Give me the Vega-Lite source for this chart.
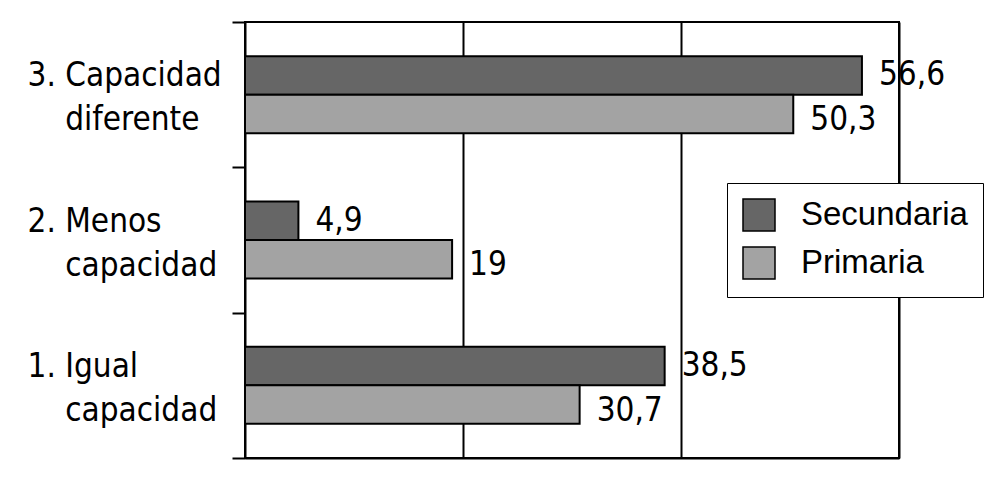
{
  "$schema": "https://vega.github.io/schema/vega-lite/v6.json",
  "width": 654,
  "height": 436,
  "autosize": {"type": "none"},
  "padding": {"left": 245, "top": 22, "right": 109, "bottom": 25},
  "background": "white",
  "config": {
    "view": {"stroke": "black", "strokeWidth": 2},
    "locale": {"number": {"decimal": ",", "thousands": ".", "grouping": [3], "currency": ["", " €"]}}
  },
  "data": {
    "values": [
      {"category": "3. Capacidad diferente", "nivel": "Secundaria", "value": 56.6},
      {"category": "3. Capacidad diferente", "nivel": "Primaria", "value": 50.3},
      {"category": "2. Menos capacidad", "nivel": "Secundaria", "value": 4.9},
      {"category": "2. Menos capacidad", "nivel": "Primaria", "value": 19},
      {"category": "1. Igual capacidad", "nivel": "Secundaria", "value": 38.5},
      {"category": "1. Igual capacidad", "nivel": "Primaria", "value": 30.7}
    ]
  },
  "encoding": {
    "y": {
      "field": "category",
      "type": "nominal",
      "sort": ["3. Capacidad diferente", "2. Menos capacidad", "1. Igual capacidad"],
      "scale": {"paddingInner": 0, "paddingOuter": 0},
      "axis": {
        "title": null,
        "tickBand": "extent",
        "ticks": true,
        "tickSize": 13,
        "tickColor": "black",
        "tickWidth": 2,
        "domainColor": "black",
        "domainWidth": 2,
        "grid": false,
        "labelAlign": "left",
        "labelBaseline": "middle",
        "labelPadding": 205,
        "labelOffset": -19,
        "labelFont": "DejaVu Sans Condensed",
        "labelFontSize": 33,
        "labelColor": "black",
        "labelLineHeight": 44,
        "labelLimit": 400,
        "labelExpr": "isValid(datum.value) ? [replace(datum.value, regexp('^([^ ]+ [^ ]+) .*$'), '$1'), '\u200b\u00a0\u00a0\u00a0\u00a0' + replace(datum.value, regexp('^[^ ]+ [^ ]+ '), '')] : ''"
      }
    },
    "x": {
      "field": "value",
      "type": "quantitative",
      "scale": {"domain": [0, 60], "nice": false},
      "axis": {
        "title": null,
        "values": [20, 40, 60],
        "grid": true,
        "gridColor": "black",
        "gridWidth": 2,
        "gridOpacity": 1,
        "labels": false,
        "ticks": false,
        "domain": true,
        "domainColor": "black",
        "domainWidth": 2
      }
    },
    "yOffset": {
      "field": "nivel",
      "sort": ["Secundaria", "Primaria"],
      "scale": {"paddingInner": 0, "paddingOuter": 0.887}
    }
  },
  "layer": [
    {
      "mark": {"type": "bar", "stroke": "black", "strokeWidth": 2, "opacity": 1},
      "encoding": {
        "color": {
          "field": "nivel",
          "type": "nominal",
          "scale": {"domain": ["Secundaria", "Primaria"], "range": ["#666666", "#a3a3a3"]},
          "legend": {
            "title": null,
            "orient": "none",
            "legendX": 482,
            "legendY": 161,
            "fillColor": "white",
            "strokeColor": "black",
            "padding": 15,
            "symbolType": "square",
            "symbolSize": 1024,
            "symbolStrokeColor": "black",
            "symbolStrokeWidth": 1.5,
            "symbolOpacity": 1,
            "labelFont": "Liberation Sans",
            "labelFontSize": 33,
            "labelLimit": 400,
            "labelColor": "black",
            "labelOffset": 25,
            "rowPadding": 10
          }
        }
      }
    },
    {
      "transform": [{"filter": "datum.nivel === 'Secundaria'"}],
      "mark": {"type": "text", "align": "left", "baseline": "middle", "dx": 17, "dy": 0, "font": "DejaVu Sans Condensed", "fontSize": 33, "color": "black"},
      "encoding": {
        "text": {"field": "value", "type": "quantitative", "format": ".3~r"}
      }
    },
    {
      "transform": [{"filter": "datum.nivel === 'Primaria'"}],
      "mark": {"type": "text", "align": "left", "baseline": "middle", "dx": 17, "dy": 6, "font": "DejaVu Sans Condensed", "fontSize": 33, "color": "black"},
      "encoding": {
        "text": {"field": "value", "type": "quantitative", "format": ".3~r"}
      }
    }
  ]
}
